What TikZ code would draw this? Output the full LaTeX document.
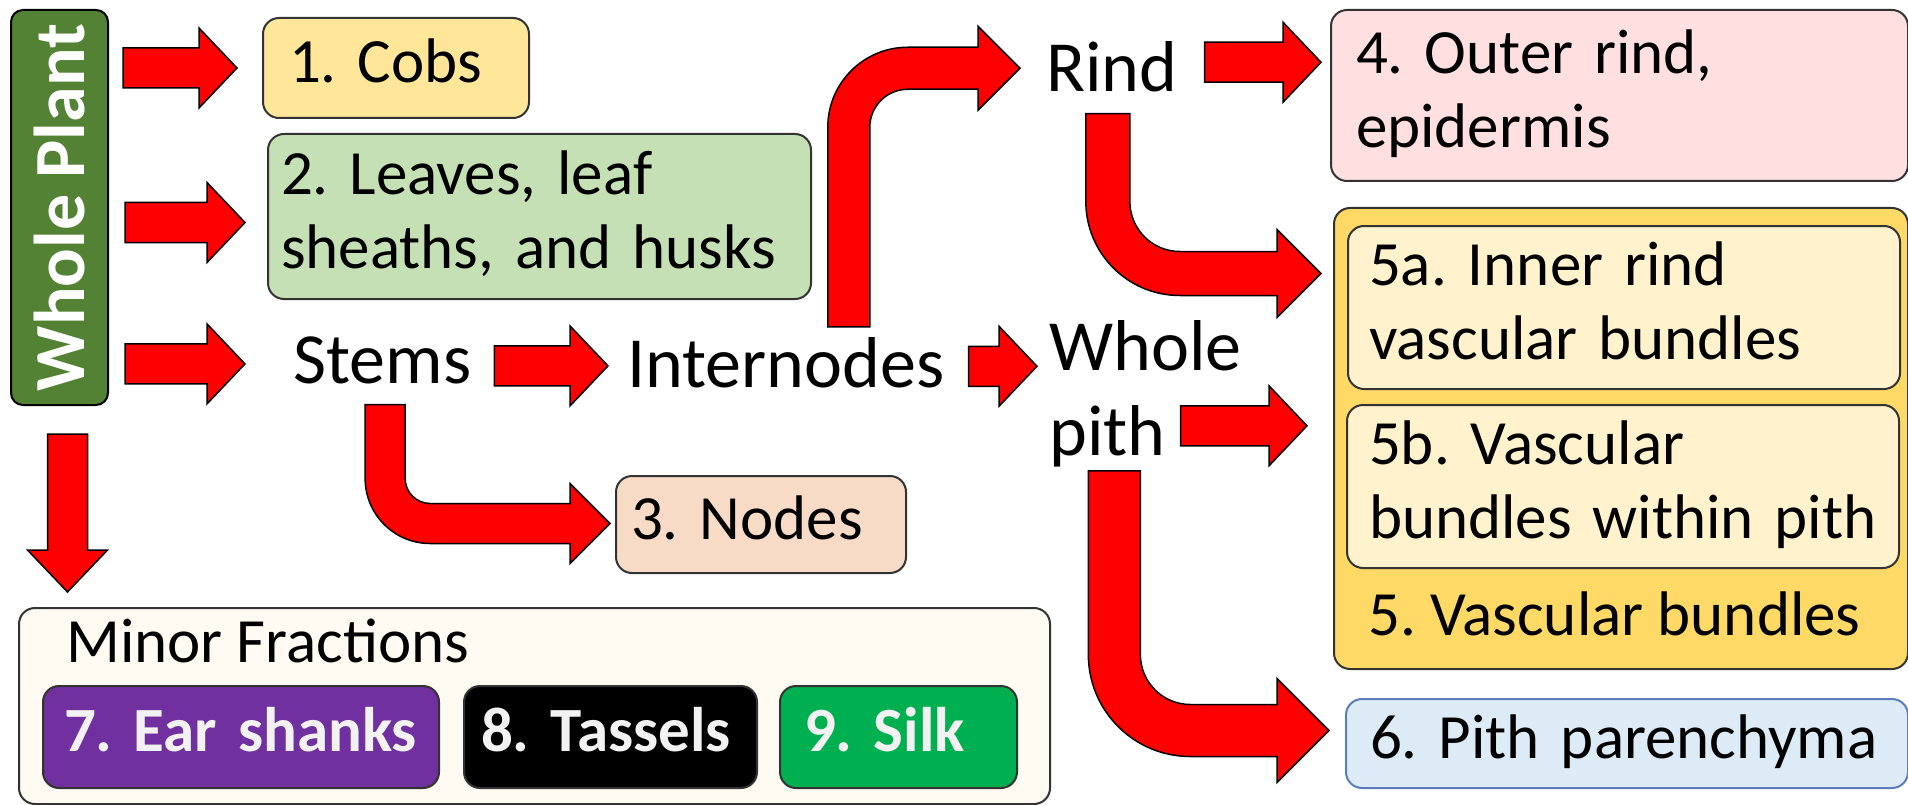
\documentclass[tikz,border=0pt]{standalone}
\usepackage{fontspec}
\setmainfont{Carlito}
\usepackage{graphicx}
\usepackage{xcolor}
\usepackage{tikz}
\usetikzlibrary{positioning}
\usetikzlibrary{calc}

\definecolor{plantgreen}{HTML}{548235}
\definecolor{cobsyellow}{HTML}{FFE699}
\definecolor{leafgreen}{HTML}{C5E0B4}
\definecolor{nodepeach}{HTML}{F8DBC7}
\definecolor{rindpink}{HTML}{FFDFDF}
\definecolor{bundlegold}{HTML}{FFD966}
\definecolor{bundlecream}{HTML}{FFF2CC}
\definecolor{pithblue}{HTML}{DDEBF7}
\definecolor{pithedge}{HTML}{5B7DBA}
\definecolor{minorcream}{HTML}{FFFBF2}
\definecolor{shankpurple}{HTML}{7030A0}
\definecolor{silkgreen}{HTML}{00B050}

\newcommand{\boxfont}{\fontsize{63}{74}\selectfont}
\newcommand{\labelfont}{\fontsize{72}{85}\selectfont}
\frenchspacing

\tikzset{
  fracbox/.style={draw=black!80, line width=2pt, rounded corners=16pt, inner ysep=0pt,
    align=left, anchor=north west, font=\boxfont,
    execute at begin node=\strut, execute at end node=\strut},
  plainbox/.style={draw=black!80, line width=2pt, rounded corners=16pt, anchor=north west},
  minorpart/.style={fracbox, font=\boxfont\bfseries, text=white!95!black},
  partlabel/.style={inner sep=0pt, anchor=base west, font=\labelfont},
  blockarrow/.style={fill=red, draw=black, line width=1.5pt, line join=miter}
}

% straight block arrows: tail point, tip point
\newcommand{\harrow}[2]{%
  \fill[blockarrow] let \p1=#1, \p2=#2 in
    (\x1,\y1-20pt) -- (\x2-38pt,\y1-20pt) -- (\x2-38pt,\y1-40pt) -- (\x2,\y1)
    -- (\x2-38pt,\y1+40pt) -- (\x2-38pt,\y1+20pt) -- (\x1,\y1+20pt) -- cycle;}
\newcommand{\varrow}[2]{%
  \fill[blockarrow] let \p1=#1, \p2=#2 in
    (\x1-20pt,\y1) -- (\x1-20pt,\y2+42pt) -- (\x1-40pt,\y2+42pt) -- (\x1,\y2)
    -- (\x1+40pt,\y2+42pt) -- (\x1+20pt,\y2+42pt) -- (\x1+20pt,\y1) -- cycle;}
% bent block arrow: tail, tip, half width, bend radius, 1 = up / -1 = down
\newcommand{\bendarrow}[5]{%
  \fill[blockarrow] let \p1=#1, \p2=#2,
    \n1={#3pt}, \n2={#4pt}, \n3={(#5)*#3pt}, \n4={\y2-(#5)*#4pt},
    \n5={0.5523*(#4pt+#3pt)}, \n6={0.5523*(#4pt-#3pt)},
    \n7={\n4+(#5)*\n5}, \n8={\n4+(#5)*\n6}
  in (\x1-\n1,\y1) -- (\x1-\n1,\n4)
     .. controls (\x1-\n1,\n7) and (\x1+\n2-\n5,\y2+\n3) .. (\x1+\n2,\y2+\n3)
     -- (\x2-2*\n1,\y2+\n3) -- (\x2-2*\n1,\y2+2*\n3) -- (\x2,\y2)
     -- (\x2-2*\n1,\y2-2*\n3) -- (\x2-2*\n1,\y2-\n3) -- (\x1+\n2,\y2-\n3)
     .. controls (\x1+\n2-\n6,\y2-\n3) and (\x1+\n1,\n8) .. (\x1+\n1,\n4)
     -- (\x1+\n1,\y1) -- cycle;}

\begin{document}
\begin{tikzpicture}[x=1pt, y=-1pt]
    \useasboundingbox (0,0) rectangle (1908,805);

    % left column
    \node[plainbox, fill=plantgreen, draw=black, rounded corners=12pt,
          minimum width=97pt, minimum height=395pt, inner sep=0pt,
          font=\labelfont\bfseries, text=white] at (10,9) (plant) {\rotatebox{90}{Whole Plant}};
    \node[fracbox, fill=cobsyellow, minimum width=266pt, minimum height=100pt,
          text width=214pt, inner xsep=26pt] at (262,17) (cobs) {\mbox{1. Cobs}};
    \node[fracbox, fill=leafgreen, minimum width=543pt, minimum height=165pt,
          text width=517pt, inner xsep=13pt] at (267,133) (leaves)
          {\mbox{2. Leaves, leaf}\\\mbox{sheaths, and husks}};
    \node[partlabel] at (293,383) (stems) {Stems};
    \node[partlabel] at (627,387) (inter) {Internodes};
    \node[fracbox, fill=nodepeach, minimum width=290pt, minimum height=97pt,
          text width=260pt, inner xsep=15pt] at (615,475) (nodes3) {\mbox{3. Nodes}};

    % minor fractions
    \node[plainbox, fill=minorcream, minimum width=1031pt, minimum height=196pt] at (18,607) (minor) {};
    \node[partlabel, font=\boxfont] at (66,662) (minortitle) {Minor Fractions};
    \node[minorpart, fill=shankpurple, minimum width=396pt, minimum height=102pt,
          text width=354pt, inner xsep=21pt] at (42,685) (shanks) {\mbox{7. Ear shanks}};
    \node[minorpart, fill=black, minimum width=293pt, minimum height=102pt,
          text width=259pt, inner xsep=17pt] at (463,685) (tassels) {\mbox{8. Tassels}};
    \node[minorpart, fill=silkgreen, minimum width=237pt, minimum height=102pt,
          text width=189pt, inner xsep=24pt] at (779,685) (silk) {\mbox{9. Silk}};

    % rind and pith
    \node[partlabel] at (1046,92) (rind) {Rind};
    \node[partlabel] at (1049,370) (whole) {Whole};
    \node[partlabel] at (1049,455) (pith) {pith};
    \node[fracbox, fill=rindpink, minimum width=577pt, minimum height=171pt,
          text width=527pt, inner xsep=25pt] at (1330,9) (outer)
          {\mbox{4. Outer rind,}\\\mbox{epidermis}};
    \node[plainbox, fill=bundlegold, minimum width=574pt, minimum height=461pt] at (1333,207) (bundles) {};
    \node[fracbox, fill=bundlecream, minimum width=552pt, minimum height=163pt,
          text width=510pt, inner xsep=21pt] at (1347,225) (innerrind)
          {\mbox{5a. Inner rind}\\\mbox{vascular bundles}};
    \node[fracbox, fill=bundlecream, minimum width=552pt, minimum height=163pt,
          text width=508pt, inner xsep=22pt] at (1346,404) (pithbundles)
          {\mbox{5b. Vascular}\\\mbox{bundles within pith}};
    \node[partlabel, font=\boxfont] at (1368,635) (bundletitle) {5. Vascular bundles};
    \node[fracbox, fill=pithblue, draw=pithedge, minimum width=562pt, minimum height=89pt,
          text width=514pt, inner xsep=24pt] at (1345,698) (parench) {\mbox{6. Pith parenchyma}};

    % arrows
    \harrow{($(plant.east |- cobs.west)+(14,0)$)}{($(cobs.west)+(-25,0)$)}
    \harrow{($(plant.east |- leaves.west)+(16,6)$)}{($(leaves.west)+(-22,0)$)}
    \harrow{($(plant.east |- stems.west)+(16,4)$)}{($(stems.west)+(-48,0)$)}
    \varrow{($(plant.south)+(8,28)$)}{($(minor.north)+(0,-15)$)}
    \harrow{($(stems.east)+(23,6)$)}{($(inter.west)+(-19,0)$)}
    \harrow{($(inter.east)+(24,4)$)}{($(whole.west)+(-12,0)$)}
    \harrow{($(rind.east)+(27,-5)$)}{($(outer.west)+(-9,0)$)}
    \harrow{($(pith.east)+(15,-10)$)}{($(bundles.west)+(-26,0)$)}
    \bendarrow{($(stems.south)+(3,21)$)}{($(nodes3.west)+(-5,-1)$)}{20}{45}{-1}
    \bendarrow{($(inter.north)+(63,-10)$)}{($(rind.west)+(-26,1)$)}{21}{59}{1}
    \bendarrow{($(rind.south)+(-4,21)$)}{($(innerrind.west)+(-26,-34)$)}{22}{72}{-1}
    \bendarrow{($(pith.south)+(7,4)$)}{($(parench.west)+(-16,-13)$)}{26}{76}{-1}
\end{tikzpicture}
\end{document}
